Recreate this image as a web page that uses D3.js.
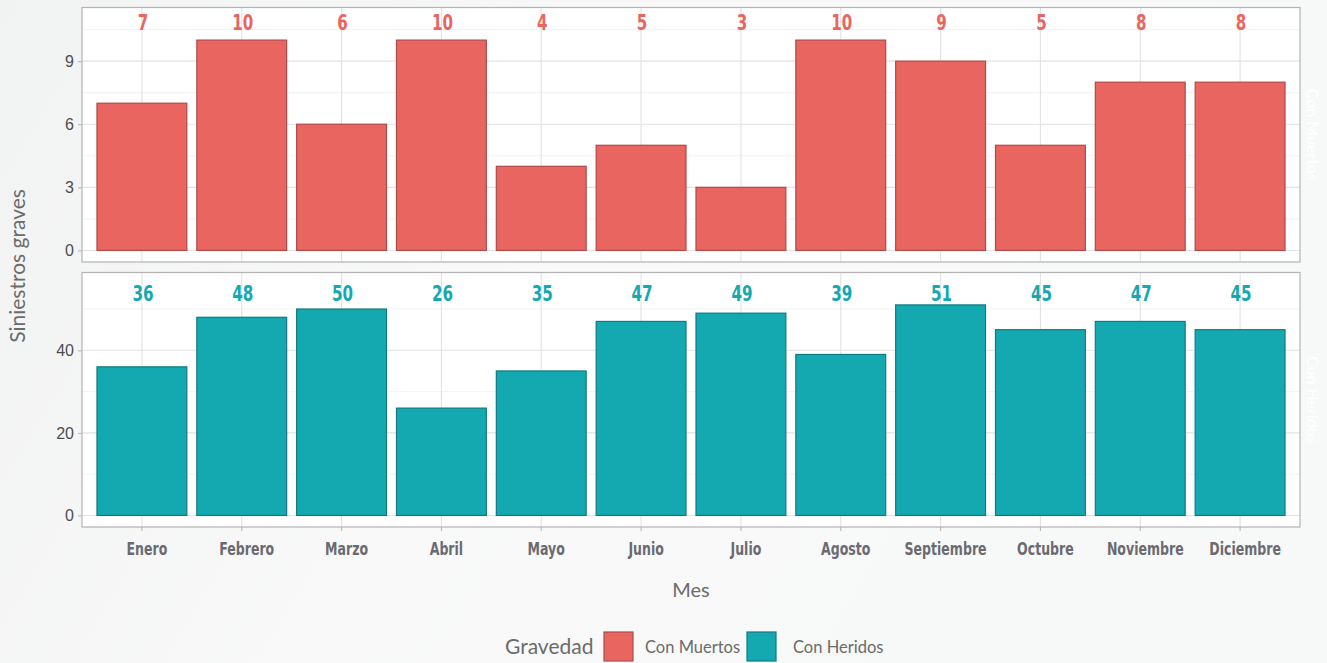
<!DOCTYPE html>
<html><head><meta charset="utf-8">
<script src="https://cdn.jsdelivr.net/npm/d3@7"></script>
<style>html,body{margin:0;padding:0;}svg{display:block;}</style>
</head><body>
<svg id="chart" width="1327" height="663"></svg>
<script>
const months = ["Enero","Febrero","Marzo","Abril","Mayo","Junio","Julio","Agosto","Septiembre","Octubre","Noviembre","Diciembre"];
const conMuertos = [7,10,6,10,4,5,3,10,9,5,8,8];
const conHeridos = [36,48,50,26,35,47,49,39,51,45,47,45];
const groups = ["Con Muertos","Con Heridos"];
const topTicks = [0,3,6,9];
const bottomTicks = [0,20,40];

const W = 1327, H = 663;
const svg = d3.select("#chart");
const defs = svg.append("defs");
const grad = defs.append("linearGradient").attr("id","bg").attr("x1","0").attr("x2","1").attr("y1","0").attr("y2","0.3");
grad.append("stop").attr("offset","0").attr("stop-color","#f1f2f2");
grad.append("stop").attr("offset","0.5").attr("stop-color","#f9f9f9");
grad.append("stop").attr("offset","1").attr("stop-color","#f7f8f8");
svg.append("rect").attr("width",W).attr("height",H).attr("fill","url(#bg)");

const left = 82, right = 1300;
const x = d3.scaleBand().domain(months).range([left, right]);
const step = (right-left)/12.2;
const xc = d => left + 0.6*step + x.domain().indexOf(d)*step;
const barW = 0.9*step;
const narrow = "'Liberation Sans Narrow','DejaVu Sans Condensed','DejaVu Sans',sans-serif";

const panels = [
  {name: groups[0], data: conMuertos, top: 7.5, bottom: 262, domain:[-0.55, 11.55], ticks: topTicks, minor:[1.5,4.5,7.5,10.5], fill:"#e8665f", stroke:"#b0494a", label:"#e8665f", labelOff: 15},
  {name: groups[1], data: conHeridos, top: 272.5, bottom: 527, domain:[-2.8, 58.85], ticks: bottomTicks, minor:[10,30,50], fill:"#14a8b1", stroke:"#0f7b80", label:"#14a8b1", labelOff: 20.5}
];

panels.forEach(p => {
  const y = d3.scaleLinear().domain(p.domain).range([p.bottom, p.top]);
  const g = svg.append("g");
  g.append("rect").attr("x",left).attr("y",p.top).attr("width",right-left).attr("height",p.bottom-p.top).attr("fill","#ffffff");
  g.selectAll(".mn").data(p.minor).enter().append("line")
    .attr("x1",left).attr("x2",right).attr("y1",d=>y(d)).attr("y2",d=>y(d))
    .attr("stroke","#efefef").attr("stroke-width",0.8);
  g.selectAll(".mj").data(p.ticks).enter().append("line")
    .attr("x1",left).attr("x2",right).attr("y1",d=>y(d)).attr("y2",d=>y(d))
    .attr("stroke","#e2e2e2").attr("stroke-width",1.1);
  g.selectAll(".vx").data(months).enter().append("line")
    .attr("x1",d=>xc(d)).attr("x2",d=>xc(d)).attr("y1",p.top).attr("y2",p.bottom)
    .attr("stroke","#e2e2e2").attr("stroke-width",1.1);
  g.selectAll(".bar").data(p.data).enter().append("rect")
    .attr("x",(d,i)=>xc(months[i])-barW/2).attr("width",barW)
    .attr("y",d=>y(d)).attr("height",d=>y(0)-y(d))
    .attr("fill",p.fill).attr("stroke",p.stroke).attr("stroke-width",1.2);
  g.selectAll(".lab").data(p.data).enter().append("text")
    .attr("transform",(d,i)=>`translate(${xc(months[i])+1},${p.top+p.labelOff}) scale(0.8,1)`)
    .attr("dy","0.36em").attr("text-anchor","middle")
    .attr("font-family",narrow)
    .attr("font-weight","bold").attr("font-size","21px").attr("fill",p.label)
    .text(d=>d);
  g.append("rect").attr("x",left).attr("y",p.top).attr("width",right-left).attr("height",p.bottom-p.top)
    .attr("fill","none").attr("stroke","#b3b3b3").attr("stroke-width",1.2);
  const ax = svg.append("g").attr("transform",`translate(${left},0)`)
    .call(d3.axisLeft(y).tickValues(p.ticks).tickSize(4).tickPadding(4));
  ax.select(".domain").remove();
  ax.selectAll(".tick line").attr("stroke","#b3b3b3");
  ax.selectAll(".tick text").attr("fill","#4d4d4d").attr("font-size","16px")
    .attr("font-family","'Liberation Sans',Arial,sans-serif");
  svg.append("text").attr("transform",`translate(1313,${(p.top+p.bottom)/2}) rotate(90)`)
    .attr("text-anchor","middle").attr("dy","0.35em").attr("fill","#ffffff")
    .attr("font-family","Lato,sans-serif").attr("font-size","16px").text(p.name);
});

// x axis
const xa = svg.append("g").attr("transform",`translate(0,527)`);
xa.selectAll(".t").data(months).enter().append("line")
  .attr("x1",d=>xc(d)).attr("x2",d=>xc(d)).attr("y1",0).attr("y2",4).attr("stroke","#b3b3b3");
xa.selectAll(".tl").data(months).enter().append("text")
  .attr("transform",d=>`translate(${xc(d)+5},22) scale(0.82,1)`).attr("dy","0.36em").attr("text-anchor","middle")
  .attr("font-family",narrow)
  .attr("font-weight","bold").attr("font-size","17px").attr("fill","#6a6a70").text(d=>d);

// axis titles
svg.append("text").attr("x",691).attr("y",590).attr("dy","0.35em").attr("text-anchor","middle")
  .attr("font-family","Lato,sans-serif").attr("font-size","20px").attr("fill","#6b6b6b").text("Mes");
svg.append("text").attr("transform","translate(18,266) rotate(-90)").attr("dy","0.35em").attr("text-anchor","middle")
  .attr("font-family","Lato,sans-serif").attr("font-size","21px").attr("fill","#6b6b6b").text("Siniestros graves");

// legend
const leg = svg.append("g");
leg.append("text").attr("x",505).attr("y",647).attr("dy","0.35em")
  .attr("font-family","Lato,sans-serif").attr("font-size","21px").attr("fill","#6b6b6b").text("Gravedad");
const legItems = [{n:groups[0], fill:panels[0].fill, stroke:panels[0].stroke, x:604, tx:645},{n:groups[1], fill:panels[1].fill, stroke:panels[1].stroke, x:747, tx:793}];
legItems.forEach(it => {
  leg.append("rect").attr("x",it.x).attr("y",632).attr("width",29).attr("height",29)
    .attr("fill",it.fill).attr("stroke",it.stroke).attr("stroke-width",1.2);
  leg.append("text").attr("x",it.tx).attr("y",647).attr("dy","0.35em")
    .attr("font-family","Lato,sans-serif").attr("font-size","16.5px").attr("fill","#6b6b6b").text(it.n);
});
</script>
</body></html>
